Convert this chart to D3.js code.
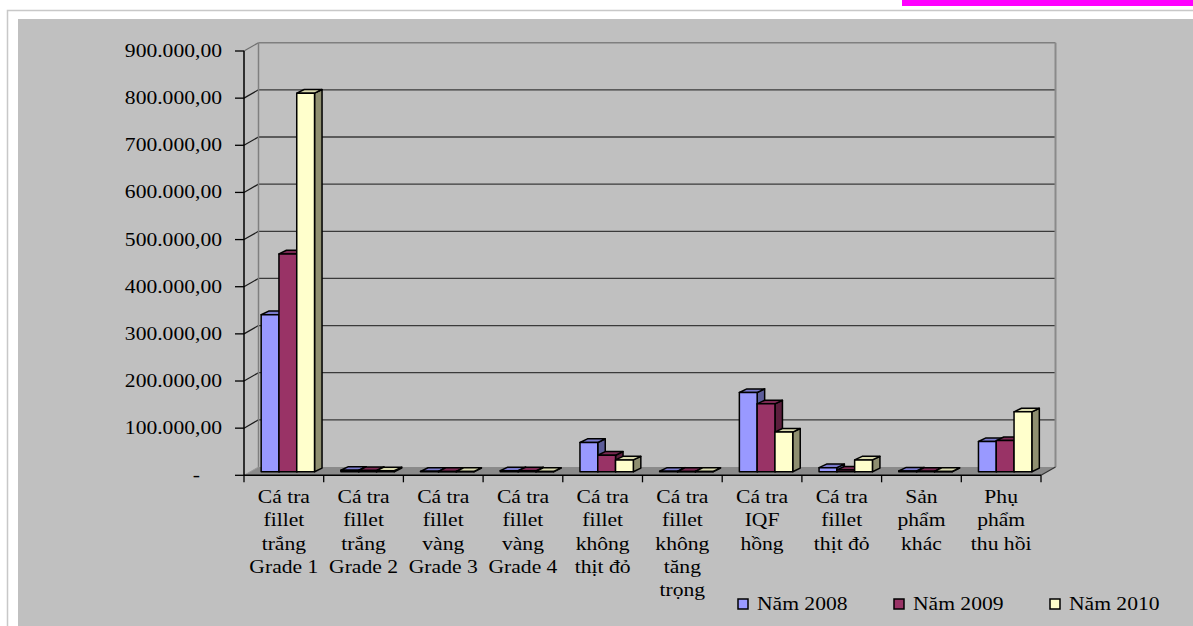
<!DOCTYPE html>
<html>
<head>
<meta charset="utf-8">
<script src="https://cdn.jsdelivr.net/npm/d3@7/dist/d3.min.js"></script>
<style>
html,body{margin:0;padding:0;background:#fff;}
svg{display:block;}
text{font-family:"Liberation Serif","Times New Roman",serif;fill:#000;}
</style>
</head>
<body>
<svg id="chart" width="1193" height="626"></svg>
<script>
// ---- data ----
const categories = [
  ["Cá tra","fillet","trắng","Grade 1"],
  ["Cá tra","fillet","trắng","Grade 2"],
  ["Cá tra","fillet","vàng","Grade 3"],
  ["Cá tra","fillet","vàng","Grade 4"],
  ["Cá tra","fillet","không","thịt đỏ"],
  ["Cá tra","fillet","không","tăng","trọng"],
  ["Cá tra","IQF","hồng"],
  ["Cá tra","fillet","thịt đỏ"],
  ["Sản","phẩm","khác"],
  ["Phụ","phẩm","thu hồi"]
];
const seriesNames = ["Năm 2008","Năm 2009","Năm 2010"];
const v2008 = [333000, 3000, 800, 2000, 62000, 1000, 168000, 8500, 1500, 64000];
const v2009 = [462000, 2500, 600, 1800, 35000, 500, 144000, 3500, 800, 66000];
const v2010 = [803000, 2000, 500, 600, 25000, 600, 84000, 25000, 600, 127000];
const yTicks = [0,100000,200000,300000,400000,500000,600000,700000,800000,900000];
const yTickLabels = ["-","100.000,00","200.000,00","300.000,00","400.000,00","500.000,00","600.000,00","700.000,00","800.000,00","900.000,00"];

const seriesValues = [v2008, v2009, v2010];
const front = ["#9999ff","#993366","#ffffcc"];
const topC  = ["#7a7acc","#7a2952","#d9d9ad"];
const sideC = ["#5c5c99","#5c1f3d","#8f8f70"];

const svg = d3.select("#chart");
const SX = 1.2; // horizontal text stretch

// backgrounds
svg.append("rect").attr("x",0).attr("y",0).attr("width",1193).attr("height",626).attr("fill","#fff");
svg.append("rect").attr("x",902).attr("y",0).attr("width",291).attr("height",6).attr("fill","#ff00ff");
svg.append("rect").attr("x",7.5).attr("y",10.5).attr("width",1200).attr("height",700)
  .attr("fill","#fff").attr("stroke","#c8c8c8").attr("stroke-width",1.5);
svg.append("rect").attr("x",18).attr("y",19).attr("width",1200).attr("height",700).attr("fill","#c0c0c0");

// scales
const x0 = 244, x1 = 1041;
const DX = 14.5, DY = -8.3;
const x = d3.scaleBand().domain(d3.range(categories.length)).range([x0, x1]).paddingInner(0).paddingOuter(0);
const xs = d3.scaleBand().domain(seriesNames).range([0, x.bandwidth()]).paddingInner(0).paddingOuter(0.74);
const y = d3.scaleLinear().domain([0, 900000]).range([475.3, 51]);

// floor
svg.append("polygon")
  .attr("points", [[x0,y(0)],[x1,y(0)],[x1+DX,y(0)+DY],[x0+DX,y(0)+DY]].map(p=>p.join(",")).join(" "))
  .attr("fill","#8a8a8a");

// back wall gridlines
const g = svg.append("g");
g.selectAll("line.grid").data(yTicks.filter(t=>t>0 && t<900000)).join("line")
  .attr("x1", x0+DX).attr("x2", x1+DX)
  .attr("y1", d=>y(d)+DY).attr("y2", d=>y(d)+DY)
  .attr("stroke","#3a3a3a").attr("stroke-width",1.3);
// diagonal connectors on left wall
g.selectAll("line.diag").data(yTicks.filter(t=>t>0)).join("line")
  .attr("x1", x0).attr("x2", x0+DX)
  .attr("y1", d=>y(d)).attr("y2", d=>y(d)+DY)
  .attr("stroke", d=> d===900000 ? "#6e6e6e" : "#1a1a1a").attr("stroke-width",1.2);
// wall frame (gray)
g.append("line").attr("x1",x0+DX).attr("x2",x1+DX).attr("y1",y(900000)+DY).attr("y2",y(900000)+DY)
  .attr("stroke","#7f7f7f").attr("stroke-width",1.5);
g.append("line").attr("x1",x0+DX).attr("x2",x0+DX).attr("y1",y(900000)+DY).attr("y2",y(0)+DY)
  .attr("stroke","#7f7f7f").attr("stroke-width",1.5);
g.append("line").attr("x1",x1+DX).attr("x2",x1+DX).attr("y1",y(900000)+DY).attr("y2",y(0)+DY)
  .attr("stroke","#8a8a8a").attr("stroke-width",2);
g.append("line").attr("x1",x0).attr("x2",x0+DX).attr("y1",y(0)).attr("y2",y(0)+DY)
  .attr("stroke","#9a9a9a").attr("stroke-width",1);
g.append("line").attr("x1",x1).attr("x2",x1+DX).attr("y1",y(0)).attr("y2",y(0)+DY)
  .attr("stroke","#333").attr("stroke-width",1.2);

// bars
const BDX0 = 4, BDY0 = -3.6;   // bar offset into the depth
const BD = 7.5, BDy = -3.6;    // bar depth
const bars = svg.append("g");
categories.forEach((c, ci) => {
  seriesNames.forEach((s, si) => {
    const v = seriesValues[si][ci];
    const bx = x(ci) + xs(s) + BDX0;
    const bw = xs.bandwidth();
    const yb = y(0) + BDY0;
    const yt = y(v) + BDY0;
    const bg = bars.append("g").attr("stroke","#000").attr("stroke-width",1.5).attr("stroke-linejoin","round");
    // side
    bg.append("polygon")
      .attr("points", [[bx+bw,yb],[bx+bw,yt],[bx+bw+BD,yt+BDy],[bx+bw+BD,yb+BDy]].map(p=>p.join(",")).join(" "))
      .attr("fill", sideC[si]);
    // top
    bg.append("polygon")
      .attr("points", [[bx,yt],[bx+bw,yt],[bx+bw+BD,yt+BDy],[bx+BD,yt+BDy]].map(p=>p.join(",")).join(" "))
      .attr("fill", topC[si]);
    // front
    bg.append("rect").attr("x",bx).attr("y",yt).attr("width",bw).attr("height",Math.max(0,yb-yt))
      .attr("fill", front[si]);
  });
});

// front y axis
svg.append("line").attr("x1",x0).attr("x2",x0).attr("y1",y(900000)).attr("y2",y(0))
  .attr("stroke","#000").attr("stroke-width",1.5);
svg.selectAll("line.ytick").data(yTicks).join("line")
  .attr("x1",235).attr("x2",x0).attr("y1",d=>y(d)).attr("y2",d=>y(d))
  .attr("stroke","#000").attr("stroke-width",1.3);
svg.selectAll("text.ylab").data(yTicks).join("text")
  .attr("transform",(d,i)=>`translate(${i===0?200:222},${y(d)+6}) scale(${SX},1)`)
  .attr("text-anchor","end").attr("font-size",18)
  .text((d,i)=>yTickLabels[i]);

// x axis
svg.append("line").attr("x1",x0).attr("x2",x1).attr("y1",y(0)).attr("y2",y(0))
  .attr("stroke","#000").attr("stroke-width",1.5);
svg.selectAll("line.xtick").data(d3.range(categories.length+1)).join("line")
  .attr("x1",d=>x0+d*x.bandwidth()).attr("x2",d=>x0+d*x.bandwidth())
  .attr("y1",y(0)).attr("y2",y(0)+7)
  .attr("stroke","#000").attr("stroke-width",1.3);
categories.forEach((c, ci) => {
  const cx = x(ci) + x.bandwidth()/2;
  c.forEach((line, li) => {
    svg.append("text")
      .attr("transform",`translate(${cx},${503 + li*23.3}) scale(${SX},1)`)
      .attr("text-anchor","middle").attr("font-size",18)
      .text(line);
  });
});

// legend
const legX = [738, 894, 1050];
seriesNames.forEach((s, si) => {
  svg.append("rect").attr("x",legX[si]).attr("y",599).attr("width",10).attr("height",10)
    .attr("fill",front[si]).attr("stroke","#000").attr("stroke-width",1.5);
  svg.append("text").attr("transform",`translate(${legX[si]+19},${609.5}) scale(${SX},1)`)
    .attr("font-size",18).text(s);
});
</script>
</body>
</html>
